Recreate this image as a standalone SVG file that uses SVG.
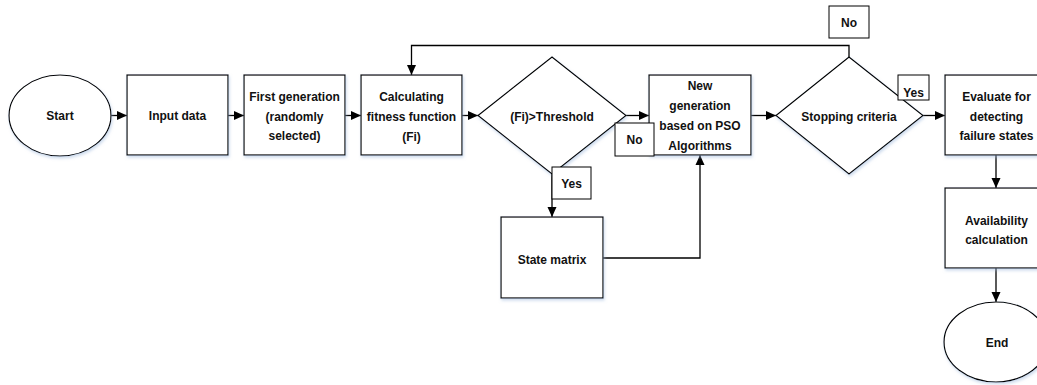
<svg xmlns="http://www.w3.org/2000/svg" width="1037" height="385" viewBox="0 0 1037 385">
<style>
.s{fill:#fff;stroke:#000;stroke-width:1.2}
.l{fill:#fff;stroke:#000;stroke-width:1}
.c{fill:none;stroke:#000;stroke-width:1.3}
text{font-family:"Liberation Sans",Arial,sans-serif;font-weight:bold;font-size:12px;text-anchor:middle;fill:#111}
</style>
<defs>
<filter id="sh" x="-10%" y="-10%" width="130%" height="130%">
<feDropShadow dx="1" dy="2" stdDeviation="1.5" flood-color="#9db8dc" flood-opacity="0.5"/>
</filter>
<marker id="a" viewBox="0 0 10 10" refX="10" refY="5" markerWidth="10" markerHeight="10" markerUnits="userSpaceOnUse" orient="auto">
<path d="M0,0.5 L10,5 L0,9.5 Z" fill="#000"/>
</marker>
</defs>
<rect width="1037" height="385" fill="#fff"/>
<g id="connectors">
<line class="c" x1="111" y1="115.5" x2="127" y2="115.5" marker-end="url(#a)"/>
<line class="c" x1="228" y1="115.5" x2="244" y2="115.5" marker-end="url(#a)"/>
<line class="c" x1="345" y1="115.5" x2="361" y2="115.5" marker-end="url(#a)"/>
<line class="c" x1="462" y1="115.5" x2="478" y2="115.5" marker-end="url(#a)"/>
<line class="c" x1="626" y1="115.5" x2="649" y2="115.5" marker-end="url(#a)"/>
<line class="c" x1="552" y1="174" x2="552" y2="217" marker-end="url(#a)"/>
<polyline class="c" points="603,258 700,258 700,155" marker-end="url(#a)"/>
<line class="c" x1="751" y1="115.5" x2="776" y2="115.5" marker-end="url(#a)"/>
<polyline class="c" points="849,57 849,45.5 411.5,45.5 411.5,75" marker-end="url(#a)"/>
<line class="c" x1="923" y1="115.5" x2="945" y2="115.5" marker-end="url(#a)"/>
<line class="c" x1="996" y1="155" x2="996" y2="188" marker-end="url(#a)"/>
<line class="c" x1="996" y1="268" x2="996" y2="302" marker-end="url(#a)"/>
</g>
<g id="start"><ellipse class="s" cx="60" cy="115.5" rx="51" ry="40.5" filter="url(#sh)"/><text x="60" y="120">Start</text></g>
<g id="input"><rect class="s" x="127" y="75" width="101" height="80" filter="url(#sh)"/><text x="177.5" y="120">Input data</text></g>
<g id="firstgen"><rect class="s" x="244" y="75" width="101" height="80" filter="url(#sh)"/><text x="294.5" y="101">First generation</text><text x="294.5" y="120.5">(randomly</text><text x="294.5" y="140">selected)</text></g>
<g id="calc"><rect class="s" x="361" y="75" width="101" height="80" filter="url(#sh)"/><text x="411.5" y="101">Calculating</text><text x="411.5" y="120.5">fitness function</text><text x="411.5" y="140.5">(Fi)</text></g>
<g id="threshold"><polygon class="s" points="552,57 626,115.5 552,174 478,115.5" filter="url(#sh)"/><text x="552" y="120.5">(Fi)&gt;Threshold</text></g>
<g id="newgen"><rect class="s" x="649" y="75" width="102" height="80" filter="url(#sh)"/><text x="700" y="90">New</text><text x="700" y="110">generation</text><text x="700" y="130">based on PSO</text><text x="700" y="149.5">Algorithms</text></g>
<g id="label-no1"><rect class="l" x="615" y="123" width="39" height="33"/><text x="634.5" y="144">No</text></g>
<g id="label-yes1"><rect class="l" x="552" y="167" width="39" height="32"/><text x="571.5" y="188">Yes</text></g>
<g id="statematrix"><rect class="s" x="501" y="217" width="102" height="81" filter="url(#sh)"/><text x="552" y="263.5">State matrix</text></g>
<g id="stopping"><polygon class="s" points="849,57 923,115.5 849,174 776,115.5" filter="url(#sh)"/><text x="849" y="120.5">Stopping criteria</text></g>
<g id="label-no2"><rect class="l" x="829" y="6" width="40" height="32"/><text x="849" y="27">No</text></g>
<g id="label-yes2"><rect class="l" x="898" y="75" width="31" height="25"/><text x="913.5" y="96.5">Yes</text></g>
<g id="evaluate"><rect class="s" x="945" y="75" width="103" height="80" filter="url(#sh)"/><text x="996.5" y="101">Evaluate for</text><text x="996.5" y="120.5">detecting</text><text x="996.5" y="139.5">failure states</text></g>
<g id="availability"><rect class="s" x="945" y="188" width="103" height="80" filter="url(#sh)"/><text x="996.5" y="225">Availability</text><text x="996.5" y="243.5">calculation</text></g>
<g id="end"><ellipse class="s" cx="996" cy="342" rx="52" ry="40" filter="url(#sh)"/><text x="997" y="347">End</text></g>
</svg>
